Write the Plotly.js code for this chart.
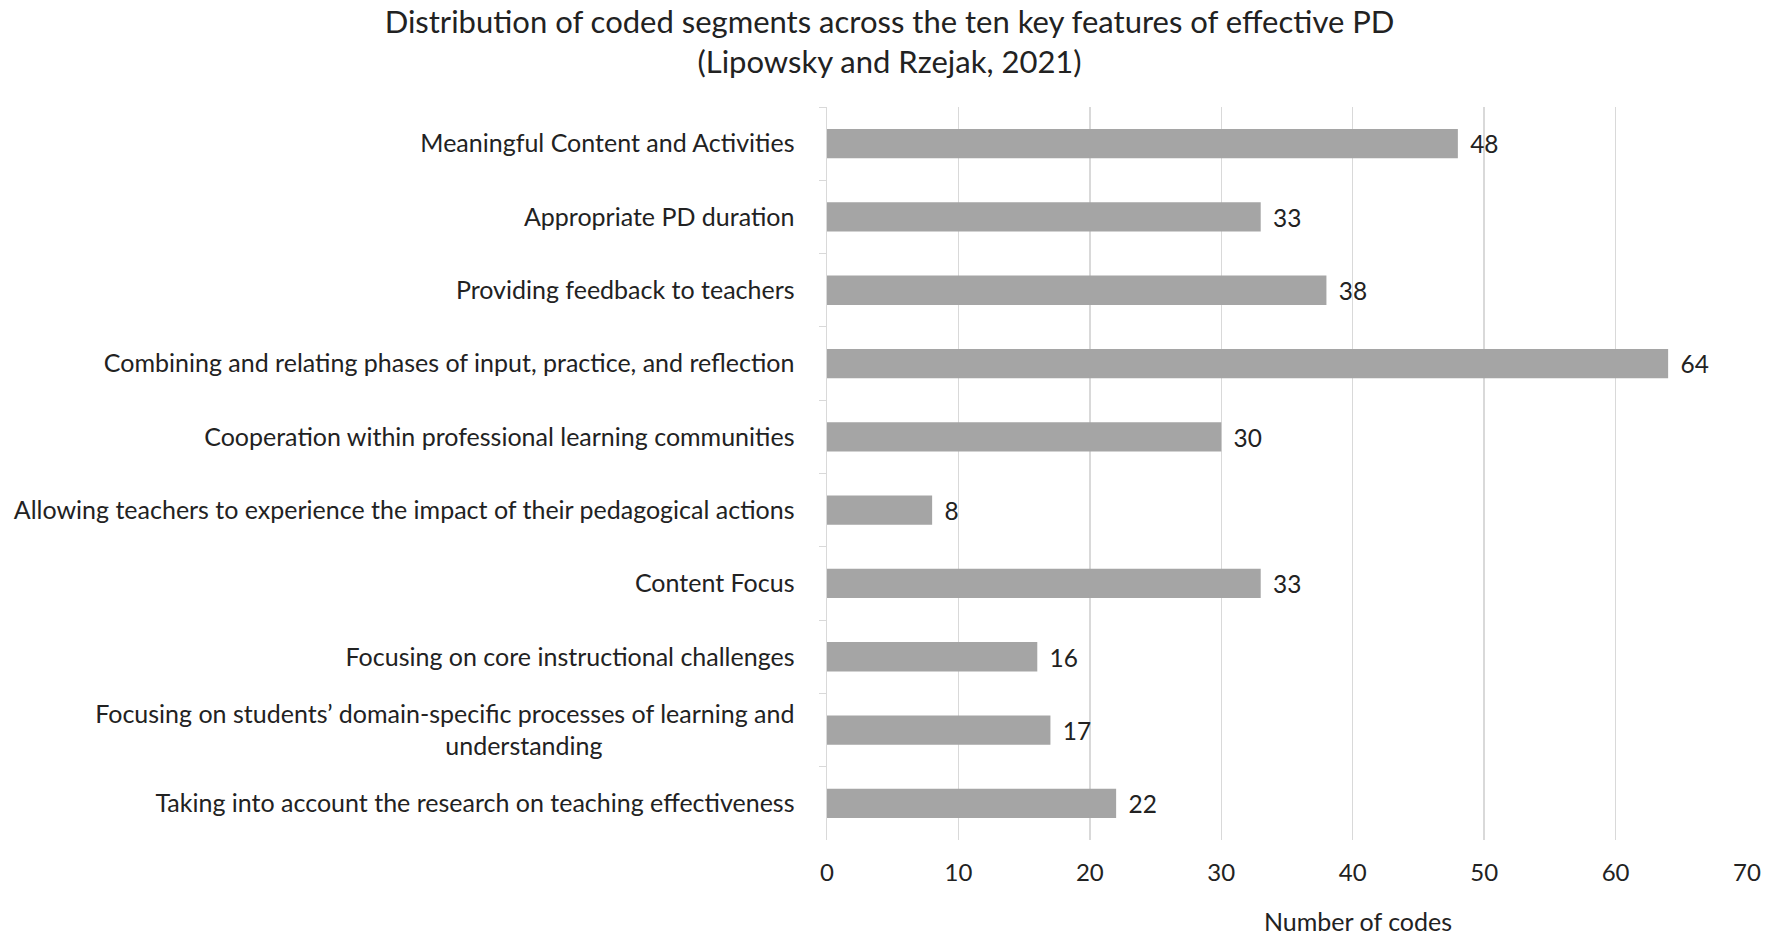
<!DOCTYPE html>
<html>
<head>
<meta charset="utf-8">
<script src="https://cdn.plot.ly/plotly-3.0.1.min.js"></script>
<style>
  html, body { margin: 0; padding: 0; background: #fff; }
  #chart { width: 1772px; height: 938px; }
</style>
</head>
<body>
<div id="chart"></div>
<script>
// ======================== Data =========================
const features = [
  "Meaningful Content and Activities",
  "Appropriate PD duration",
  "Providing feedback to teachers",
  "Combining and relating phases of input, practice, and reflection",
  "Cooperation within professional learning communities",
  "Allowing teachers to experience the impact of their pedagogical actions",
  "Content Focus",
  "Focusing on core instructional challenges",
  "Focusing on students\u2019 domain-specific processes of learning and<br>understanding" + "\u00a0".repeat(30),
  "Taking into account the research on teaching effectiveness"
];
const codeCounts = [48, 33, 38, 64, 30, 8, 33, 16, 17, 22];

const font = "Lato, 'Open Sans', sans-serif";

const data = [{
  type: "bar",
  orientation: "h",
  x: codeCounts,
  y: features,
  texttemplate: "\u00a0\u2009%{x}",
  textposition: "outside",
  cliponaxis: false,
  textfont: { family: font, size: 25, color: "#222" },
  marker: { color: "#a5a5a5", line: { width: 0 } },
  hoverinfo: "x+y"
}];

const layout = {
  width: 1772, height: 938,
  paper_bgcolor: "#fff", plot_bgcolor: "#fff",
  font: { family: font, size: 25, color: "#222" },
  margin: { l: 827, r: 25, t: 107, b: 98 },
  bargap: 0.6,
  showlegend: false,
  title: {
    text: "Distribution of coded segments across the ten key features of effective PD<br>(Lipowsky and Rzejak, 2021)",
    x: 0.502, xanchor: "center", y: 0.965, yanchor: "top",
    font: { family: font, size: 31, color: "#222" }
  },
  xaxis: {
    range: [0, 70], dtick: 10,
    showgrid: true, gridcolor: "#d9d9d9", gridwidth: 1.5,
    zeroline: false, showline: false, ticks: "",
    ticklabelstandoff: 16,
    tickfont: { family: font, size: 24, color: "#222" },
    fixedrange: true
  },
  yaxis: {
    autorange: "reversed",
    showgrid: false, zeroline: false,
    showline: true, linecolor: "#d9d9d9", linewidth: 1.5,
    ticks: "outside", tickson: "boundaries", ticklen: 7, tickcolor: "#d9d9d9",
    ticklabelstandoff: 26,
    tickfont: { family: font, size: 25, color: "#222" },
    fixedrange: true
  },
  annotations: [{
    text: "Number of codes", xref: "paper", yref: "paper",
    x: 0.577, y: 0, xanchor: "center", yanchor: "top", yshift: -64,
    showarrow: false, font: { family: font, size: 25, color: "#222" }
  }]
};

Plotly.newPlot("chart", data, layout, { displayModeBar: false, staticPlot: true });
</script>
</body>
</html>
